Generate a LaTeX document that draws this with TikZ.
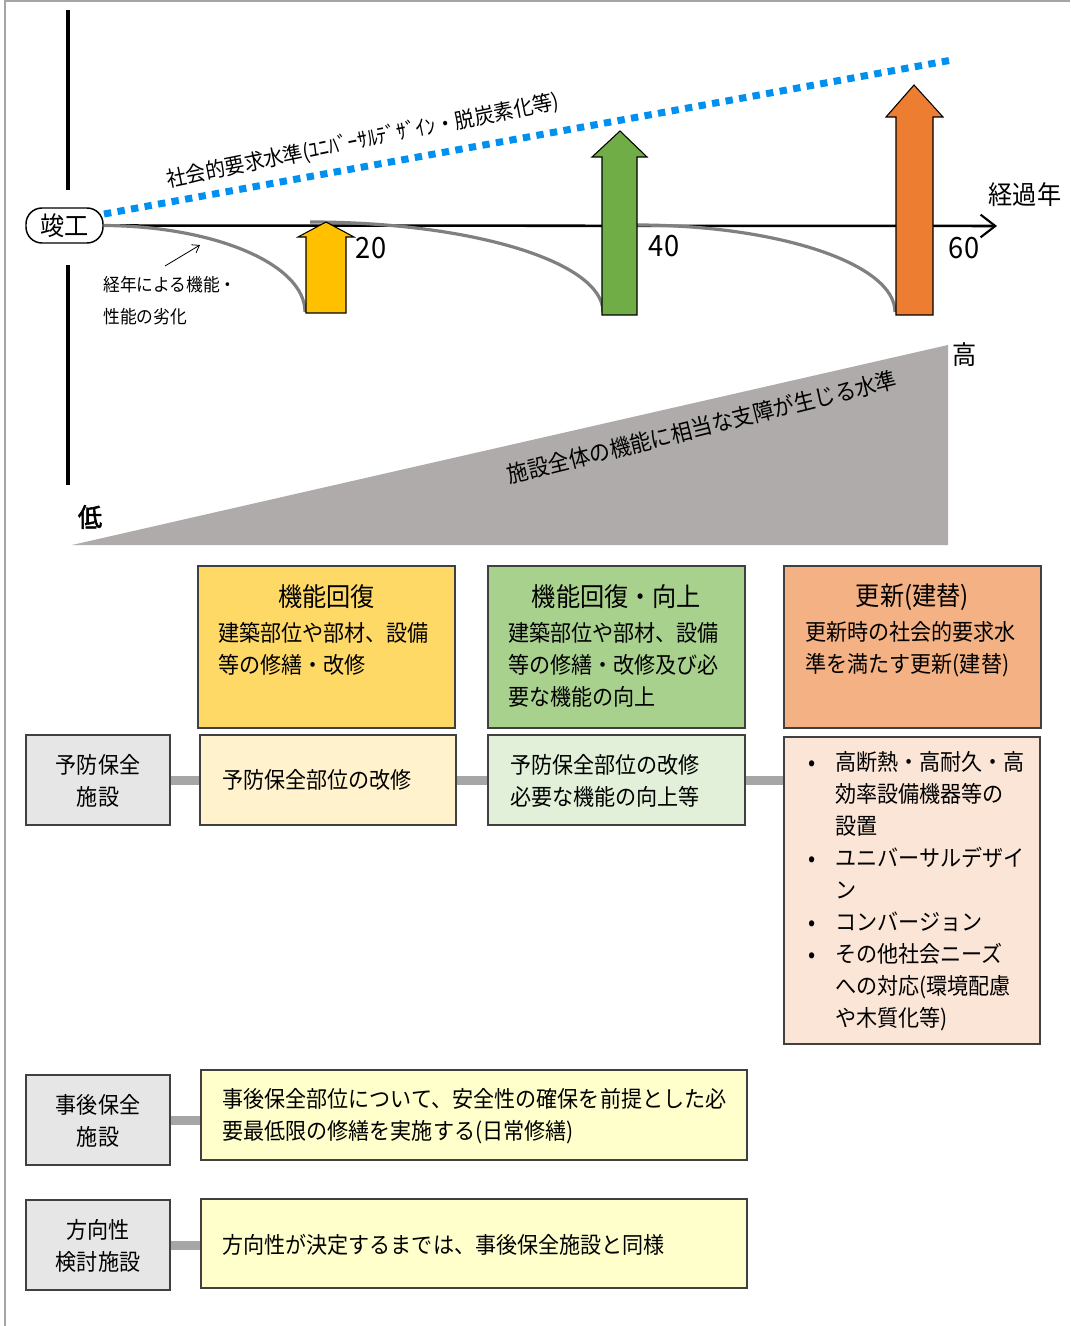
\documentclass[tikz,border=0pt]{standalone}
\usepackage{fontspec}
\setmainfont{Noto Sans CJK JP}[FakeStretch=0.93]
\newfontfamily\jpbold{Noto Sans CJK JP}[FakeStretch=0.93,FakeBold=2]
\usetikzlibrary{arrows.meta,fit}
\definecolor{blueline}{RGB}{0,145,240}
\definecolor{curvegray}{RGB}{128,128,128}
\definecolor{arrY}{RGB}{255,192,0}
\definecolor{arrG}{RGB}{112,173,71}
\definecolor{arrO}{RGB}{237,125,49}
\definecolor{tri}{RGB}{175,171,171}
\definecolor{hY}{RGB}{255,217,102}
\definecolor{hG}{RGB}{169,209,142}
\definecolor{hO}{RGB}{244,177,131}
\definecolor{lY}{RGB}{255,242,204}
\definecolor{lG}{RGB}{226,240,217}
\definecolor{lO}{RGB}{251,229,214}
\definecolor{lYY}{RGB}{255,255,204}
\definecolor{gbox}{RGB}{231,230,230}
\definecolor{barcol}{RGB}{166,166,166}
\definecolor{framecol}{RGB}{165,165,165}
\definecolor{edgecol}{RGB}{64,64,64}
\newcommand\bodyfont{\fontsize{17}{24}\selectfont}
\newcommand\titlefont{\fontsize{19.5}{24}\selectfont}
\newcommand\bul{\makebox[20.25pt][l]{•}}
\newcommand\ind{\hspace*{20.25pt}}
\tikzset{
  boxstyle/.style={draw=edgecol, line width=0.9pt, inner sep=0pt},
  txt/.style={inner sep=0pt, font=\bodyfont, align=left, anchor=west},
  ctxt/.style={inner sep=0pt, font=\bodyfont, align=center},
  barline/.style={draw=barcol, line width=6.75pt},
  blockarrow/.style={draw=black, line width=0.8pt},
  decay/.style={draw=curvegray, line width=2.4pt},
}
\begin{document}
\begin{tikzpicture}[x=0.75pt,y=-0.75pt]
\useasboundingbox (0,0) rectangle (1070,1326);
\fill[white] (0,0) rectangle (1070,1326);
\draw[framecol, line width=0.9pt] (5,1326) -- (5,1) -- (1070,1);

% vertical axis
\draw[line width=2.3pt] (68,10) -- (68,190);
\draw[line width=2.3pt] (68,265) -- (68,485);

% start node
\node[draw=black, line width=1.1pt, rounded corners=12pt, inner sep=0pt, fit={(26,208) (103,243)}] (kanko) {};
\node[inner sep=0pt, font=\titlefont] (kankot) at (kanko.center) {竣工};

% time axis
\coordinate (axend) at (997,226);
\draw[line width=1.9pt, -{Straight Barb[length=11pt,width=17pt,line width=1.6pt]}] (kanko.east) -- (axend);
\node[inner sep=0pt, font=\titlefont] (keika) at (1025,195) {経過年};

% decay curves
\draw[decay] (kanko.east) .. controls (214,226) and (305,264) .. (305,312);
\draw[decay] (310,222) .. controls (472,222) and (603,262) .. (603,312);
\draw[decay] (636,225) .. controls (779,225) and (895,264) .. (895,312);

% block arrows
\filldraw[blockarrow, fill=arrY] (306,313) -- (306,237) -- (298,237) -- (326,222) -- (354,237) -- (346,237) -- (346,313) -- cycle;
\filldraw[blockarrow, fill=arrG] (602,315) -- (602,157) -- (592,157) -- (620,131) -- (647,157) -- (637,157) -- (637,315) -- cycle;
\filldraw[blockarrow, fill=arrO] (896,315) -- (896,117) -- (886,117) -- (914,85) -- (943,117) -- (933,117) -- (933,315) -- cycle;
\node[inner sep=0pt, font=\fontsize{22}{24}\selectfont] (n20) at (371,248) {20};
\node[inner sep=0pt, font=\fontsize{22}{24}\selectfont] (n40) at (664,246) {40};
\node[inner sep=0pt, font=\fontsize{22}{24}\selectfont] (n60) at (964,248) {60};

% social requirement line
\coordinate (bs) at (104,214);
\coordinate (be) at (952,60);
\draw[blueline, line width=5.25pt, dash pattern=on 5.5pt off 4.8pt] (bs) -- (be);
\node[inner sep=0pt, font=\fontsize{16}{24}\selectfont, rotate=11.5] (social) at (363,141) {社会的要求水準(ﾕﾆﾊﾞｰｻﾙﾃﾞｻﾞｲﾝ・脱炭素化等)};

% deterioration note
\coordinate (na) at (165,266);
\coordinate (nb) at (200,245);
\draw[line width=0.6pt, -{Straight Barb[length=5pt,width=7pt]}] (na) -- (nb);
\node[txt, font=\fontsize{13.5}{24}\selectfont] (note) at (103,301) {経年による機能・\\性能の劣化};

% triangle
\fill[tri] (72,545) -- (948,345) -- (948,545) -- cycle;
\node[inner sep=0pt, font=\bodyfont, rotate=14] (trilabel) at (702,427) {施設全体の機能に相当な支障が生じる水準};
\node[inner sep=0pt, font=\titlefont] (high) at (965,355) {高};
\node[inner sep=0pt, font=\titlefont\jpbold] (low) at (90,517) {低};

% header boxes
\node[boxstyle, fill=hY, fit={(198,566) (455,728)}] (hy) {};
\node[boxstyle, fill=hG, fit={(488,566) (745,728)}] (hg) {};
\node[boxstyle, fill=hO, fit={(784,566) (1041,728)}] (ho) {};
\node[ctxt, font=\titlefont] (hyt) at (326.5,597) {機能回復};
\node[ctxt, font=\titlefont] (hgt) at (616.5,597) {機能回復・向上};
\node[ctxt, font=\titlefont] (hot) at (912.5,597) {更新(建替)};
\node[txt] (hyb) at (218,649) {建築部位や部材、設備\\等の修繕・改修};
\node[txt] (hgb) at (508,665) {建築部位や部材、設備\\等の修繕・改修及び必\\要な機能の向上};
\node[txt] (hob) at (805,649) {更新時の社会的要求水\\準を満たす更新(建替)};

% preventive row
\node[boxstyle, fill=gbox, fit={(26,735) (170,825)}] (g1) {};
\node[ctxt] (g1t) at (98,781) {予防保全\\施設};
\node[boxstyle, fill=lY, fit={(200,735) (456,825)}] (ly) {};
\node[txt] (lyt) at (222,780) {予防保全部位の改修};
\node[boxstyle, fill=lG, fit={(488,735) (745,825)}] (lg) {};
\node[txt] (lgt) at (510,781) {予防保全部位の改修\\必要な機能の向上等};
\node[boxstyle, fill=lO, fit={(784,737) (1040,1044)}] (lo) {};
\node[txt] (lot) at (808,891.5) {\bul 高断熱・高耐久・高\\\ind 効率設備機器等の\\\ind 設置\\\bul ユニバーサルデザイ\\\ind ン\\\bul コンバージョン\\\bul その他社会ニーズ\\\ind への対応(環境配慮\\\ind や木質化等)};
\draw[barline] (g1.east) -- (ly.west);
\draw[barline] (ly.east) -- (lg.west);
\draw[barline] (lg.east) -- (lg.east -| lo.west);

% after-the-fact row
\node[boxstyle, fill=gbox, fit={(26,1075) (170,1165)}] (g2) {};
\node[ctxt] (g2t) at (98,1121) {事後保全\\施設};
\node[boxstyle, fill=lYY, fit={(201,1070) (747,1160)}] (yy1) {};
\node[txt] (yy1t) at (222,1116) {事後保全部位について、安全性の確保を前提とした必\\要最低限の修繕を実施する(日常修繕)};
\draw[barline] (g2.east) -- (g2.east -| yy1.west);

% under-review row
\node[boxstyle, fill=gbox, fit={(26,1200) (170,1290)}] (g3) {};
\node[ctxt] (g3t) at (98,1246) {方向性\\検討施設};
\node[boxstyle, fill=lYY, fit={(201,1199) (747,1288)}] (yy2) {};
\node[txt] (yy2t) at (222,1245) {方向性が決定するまでは、事後保全施設と同様};
\draw[barline] (g3.east) -- (g3.east -| yy2.west);
\end{tikzpicture}
\end{document}
